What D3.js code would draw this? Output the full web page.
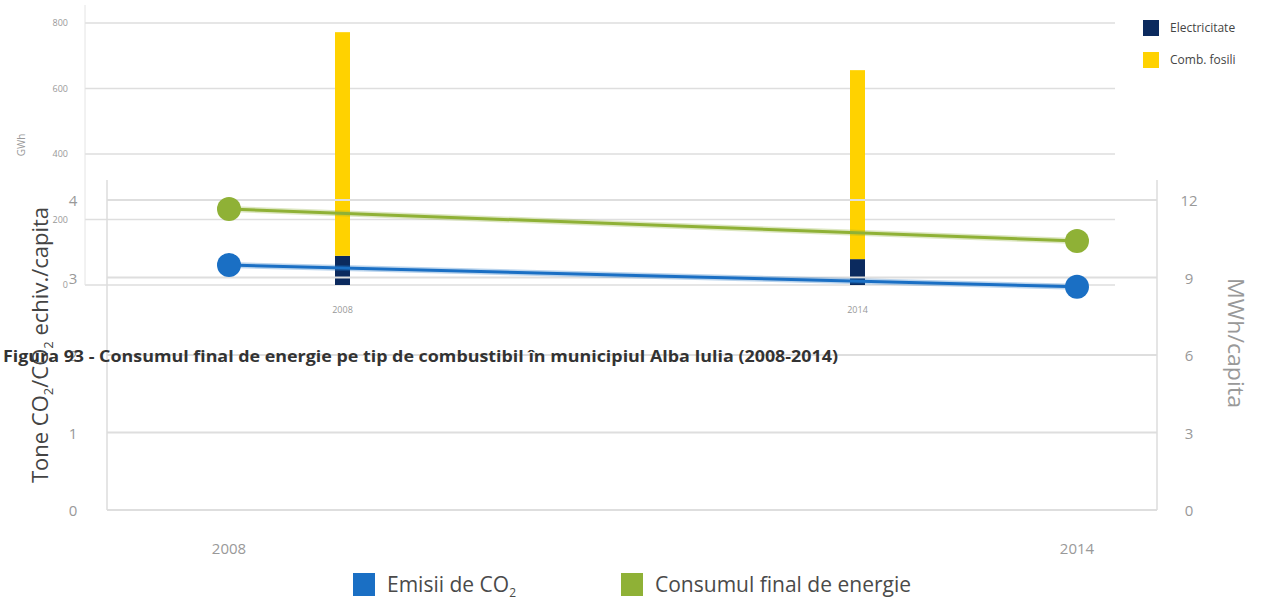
<!DOCTYPE html>
<html><head><meta charset="utf-8">
<script src="https://cdn.jsdelivr.net/npm/d3@7"></script>
<style>body{margin:0;background:#fff}svg{display:block}</style>
</head><body>
<svg id="c" width="1274" height="601"></svg>
<script>
// ---- data: top bar chart (GWh)
const barYears = ["2008", "2014"];
const electricitate = [89, 79];
const combFosili = [683, 577];
const gwhTicks = [0, 200, 400, 600, 800];
const barLegend = ["Electricitate", "Comb. fosili"];
// ---- data: bottom line chart (per capita)
const lineYears = [2008, 2014];
const emisiiCO2 = [3.16, 2.88];          // Tone CO2/capita (left axis)
const consumFinal = [11.65, 10.41];      // MWh/capita (right axis)
const leftTicks = [0, 1, 2, 3, 4];
const rightTicks = [0, 3, 6, 9, 12];
const caption = "Figura 93 - Consumul final de energie pe tip de combustibil în municipiul Alba Iulia (2008-2014)";

const svg = d3.select("#c");
const C = {navy:"#0b2a5e", yellow:"#ffd200", blue:"#1a6fc4", green:"#8fb136", grid:"#dedede"};

// ===== top chart =====
const tx = d3.scalePoint().domain(barYears).range([85, 1115]).padding(0.5);
const ty = d3.scaleLinear().domain([0, 800]).range([285, 23]);
const gTop = svg.append("g");
gTop.append("g").selectAll("line").data(gwhTicks).join("line")
  .attr("x1", 85).attr("x2", 1115).attr("y1", d => ty(d)).attr("y2", d => ty(d))
  .attr("stroke", C.grid).attr("stroke-width", 1.5);
gTop.append("line").attr("x1", 85).attr("x2", 85).attr("y1", 5).attr("y2", 285).attr("stroke", "#e4e4e4");
gTop.append("g").selectAll("text").data(gwhTicks).join("text")
  .attr("x", 68).attr("y", d => ty(d) + 3).attr("text-anchor", "end")
  .attr("font-family", "Open Sans").attr("font-size", 9).attr("fill", "#999").text(d => d);
gTop.append("text").attr("transform", "translate(25,145) rotate(-90)").attr("text-anchor", "middle")
  .attr("font-family", "Open Sans").attr("font-size", 10).attr("fill", "#999").text("GWh");
const bw = 15;
gTop.append("g").selectAll("rect").data(barYears).join("rect")
  .attr("x", d => tx(d) - bw / 2).attr("width", bw)
  .attr("y", (d, i) => ty(electricitate[i])).attr("height", (d, i) => ty(0) - ty(electricitate[i]))
  .attr("fill", C.navy);
gTop.append("g").selectAll("rect").data(barYears).join("rect")
  .attr("x", d => tx(d) - bw / 2).attr("width", bw)
  .attr("y", (d, i) => ty(electricitate[i] + combFosili[i]))
  .attr("height", (d, i) => ty(electricitate[i]) - ty(electricitate[i] + combFosili[i]))
  .attr("fill", C.yellow);
gTop.append("g").selectAll("text").data(barYears).join("text")
  .attr("x", d => tx(d)).attr("y", 313).attr("text-anchor", "middle")
  .attr("font-family", "Open Sans").attr("font-size", 9).attr("fill", "#999").text(d => d);
const lg = gTop.append("g").selectAll("g").data(barLegend).join("g")
  .attr("transform", (d, i) => `translate(1143,${20 + i * 32})`);
lg.append("rect").attr("width", 16).attr("height", 16).attr("fill", (d, i) => i ? C.yellow : C.navy);
lg.append("text").attr("x", 27).attr("y", 12).attr("font-family", "Open Sans").attr("font-size", 12)
  .attr("fill", "#444").text(d => d);

// ===== bottom chart =====
const bx = d3.scaleLinear().domain([2008, 2014]).range([229, 1077]);
const yl = d3.scaleLinear().domain([0, 4]).range([510, 200]);
const yr = d3.scaleLinear().domain([0, 12]).range([510, 200]);
const bot = svg.append("g");
bot.append("g").selectAll("line").data(leftTicks).join("line")
  .attr("x1", 107).attr("x2", 1157).attr("y1", d => yl(d)).attr("y2", d => yl(d))
  .attr("stroke", C.grid).attr("stroke-width", 2);
bot.append("line").attr("x1", 107).attr("x2", 107).attr("y1", 180).attr("y2", 510).attr("stroke", "#dcdcdc").attr("stroke-width", 1.5);
bot.append("line").attr("x1", 1157).attr("x2", 1157).attr("y1", 180).attr("y2", 510).attr("stroke", "#dcdcdc").attr("stroke-width", 1.5);
bot.append("g").selectAll("text").data(leftTicks).join("text")
  .attr("x", 73).attr("y", d => yl(d) + 6).attr("text-anchor", "middle")
  .attr("font-family", "Open Sans").attr("font-size", 15).attr("fill", "#999").text(d => d);
bot.append("g").selectAll("text").data(rightTicks).join("text")
  .attr("x", 1189).attr("y", d => yr(d) + 6).attr("text-anchor", "middle")
  .attr("font-family", "Open Sans").attr("font-size", 15).attr("fill", "#999").text(d => d);
bot.append("g").selectAll("text").data(lineYears).join("text")
  .attr("x", d => bx(d)).attr("y", 554).attr("text-anchor", "middle")
  .attr("font-family", "Open Sans").attr("font-size", 15).attr("fill", "#999").text(d => d);
const ylab = bot.append("text").attr("transform", "translate(48,345) rotate(-90)").attr("text-anchor", "middle")
  .attr("font-family", "Open Sans").attr("font-size", 22).attr("fill", "#444");
ylab.append("tspan").text("Tone CO");
ylab.append("tspan").attr("font-size", 13).attr("dy", 5).text("2");
ylab.append("tspan").attr("dy", -5).text("/CO");
ylab.append("tspan").attr("font-size", 13).attr("dy", 5).text("2");
ylab.append("tspan").attr("dy", -5).text(" echiv./capita");
bot.append("text").attr("transform", "translate(1228,343) rotate(90)").attr("text-anchor", "middle")
  .attr("font-family", "Open Sans").attr("font-size", 21).attr("fill", "#999")
  .attr("textLength", 130).attr("lengthAdjust", "spacingAndGlyphs").text("MWh/capita");

function series(vals, y, col) {
  const pts = lineYears.map((d, i) => [bx(d), y(vals[i])]);
  bot.append("path").attr("d", d3.line()(pts)).attr("fill", "none").attr("stroke", col).attr("stroke-opacity", 0.3).attr("stroke-width", 6);
  bot.append("path").attr("d", d3.line()(pts)).attr("fill", "none").attr("stroke", col).attr("stroke-width", 3);
  bot.append("g").selectAll("circle").data(pts).join("circle")
    .attr("cx", d => d[0]).attr("cy", d => d[1]).attr("r", 12).attr("fill", col);
}
series(consumFinal, yr, C.green);
series(emisiiCO2, yl, C.blue);

const bl = [{t: "Emisii de CO", sub: "2", c: C.blue, x: 353}, {t: "Consumul final de energie", c: C.green, x: 621}];
const blg = bot.append("g").selectAll("g").data(bl).join("g").attr("transform", d => `translate(${d.x},573)`);
blg.append("rect").attr("width", 22).attr("height", 23).attr("fill", d => d.c);
const blt = blg.append("text").attr("x", 34).attr("y", 19).attr("font-family", "Open Sans").attr("font-size", 21).attr("fill", "#4a4a4a");
blt.append("tspan").text(d => d.t);
blt.filter(d => d.sub).append("tspan").attr("font-size", 12).attr("dy", 5).text(d => d.sub);

svg.append("text").attr("x", 3).attr("y", 362).attr("font-family", "Liberation Sans Narrow, Open Sans").attr("font-weight", "bold")
  .attr("font-size", 15.5).attr("fill", "#333").attr("textLength", 835).attr("lengthAdjust", "spacingAndGlyphs").text(caption);
</script>
</body></html>
